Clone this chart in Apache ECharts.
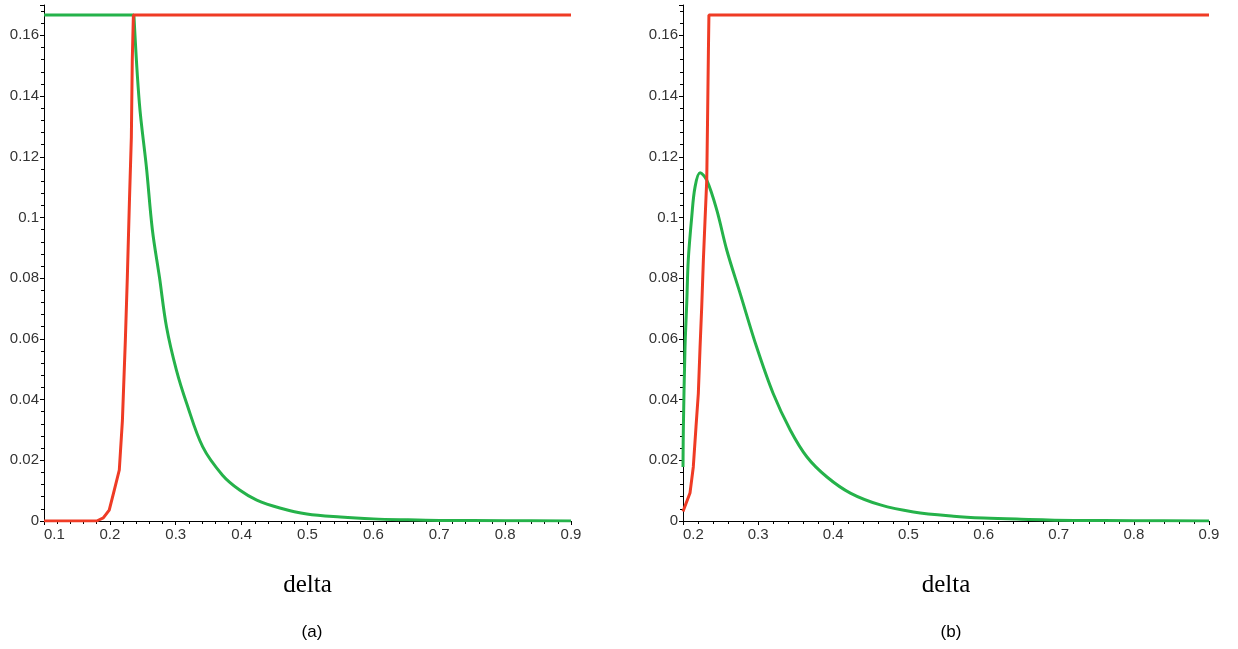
<!DOCTYPE html>
<html>
<head>
<meta charset="utf-8">
<script src="https://cdn.jsdelivr.net/npm/echarts@6/dist/echarts.min.js"></script>
<style>
html, body { margin: 0; padding: 0; background: #fff; }
#main { width: 1238px; height: 649px; }
</style>
</head>
<body>
<div id="main"></div>
<script>
'use strict';

// (a) red curve
var aRedX = [0.1, 0.15, 0.18, 0.19, 0.199, 0.2067, 0.2143, 0.219, 0.2235, 0.2265, 0.2296, 0.2326, 0.234, 0.2357, 0.9];
var aRedY = [0, 0, 0, 0.001, 0.0036, 0.0102, 0.0168, 0.033, 0.0596, 0.0803, 0.1047, 0.1264, 0.1518, 0.1667, 0.1667];
// (a) green curve
var aGreenX = [0.1, 0.2365, 0.2448, 0.2555, 0.2646, 0.2753, 0.286, 0.301, 0.3165, 0.341, 0.371, 0.397, 0.423, 0.458, 0.499, 0.55, 0.6, 0.65, 0.7, 0.8, 0.9];
var aGreenY = [0.1667, 0.1667, 0.1376, 0.1165, 0.0958, 0.0803, 0.0639, 0.0497, 0.0388, 0.0244, 0.0151, 0.0102, 0.0069, 0.0043, 0.0023, 0.0013, 0.0007, 0.0004, 0.0002, 0.0001, 0];

// (b) red curve
var bRedX = [0.2, 0.2093, 0.2137, 0.2173, 0.2204, 0.2227, 0.2249, 0.2271, 0.2293, 0.2316, 0.2327, 0.2338, 0.2345, 0.9];
var bRedY = [0.0031, 0.0092, 0.0178, 0.031, 0.042, 0.0573, 0.0705, 0.0859, 0.099, 0.1123, 0.1327, 0.1545, 0.1667, 0.1667];
// (b) green curve
var bGreenX = [0.2, 0.2005, 0.2027, 0.205, 0.207, 0.2116, 0.216, 0.2227, 0.2316, 0.245, 0.2583, 0.276, 0.298, 0.32, 0.3427, 0.365, 0.3916, 0.4227, 0.4627, 0.5067, 0.56, 0.6, 0.65, 0.72, 0.8, 0.9];
var bGreenY = [0.0178, 0.031, 0.0573, 0.0718, 0.0859, 0.1001, 0.110, 0.1147, 0.1123, 0.1024, 0.0892, 0.075, 0.0573, 0.042, 0.030, 0.0211, 0.0145, 0.0092, 0.0053, 0.003, 0.0016, 0.001, 0.0006, 0.0002, 0.0001, 0];

var xMinA = 0.1, xMinB = 0.2, xMax = 0.9, xStep = 0.1;
var yMin = 0, yMax = 0.17, yStep = 0.02;
var xTitle = 'delta';
var panelNames = ['(a)', '(b)'];

var RED = '#ef3b25';
var GREEN = '#25b24a';

function zip(xs, ys) {
    var out = [];
    for (var i = 0; i < xs.length; i++) {
        out.push([xs[i], ys[i]]);
    }
    return out;
}

function makeX(idx, min) {
    return {
        type: 'value',
        gridIndex: idx,
        min: min,
        max: xMax,
        interval: xStep,
        name: xTitle,
        nameLocation: 'middle',
        nameGap: 52,
        nameTextStyle: { fontFamily: 'Liberation Serif', fontSize: 25, color: '#000' },
        splitLine: { show: false },
        axisLine: { onZero: false, lineStyle: { color: '#000', width: 1 } },
        axisTick: { length: 4, lineStyle: { color: '#000' } },
        minorTick: { show: true, splitNumber: 5, length: 3, lineStyle: { color: '#000' } },
        axisLabel: {
            margin: 6,
            fontFamily: 'Liberation Sans',
            fontSize: 15,
            color: '#333',
            alignMinLabel: 'left'
        }
    };
}

function makeY(idx) {
    return {
        type: 'value',
        gridIndex: idx,
        min: yMin,
        max: yMax,
        interval: yStep,
        splitLine: { show: false },
        axisLine: { onZero: false, lineStyle: { color: '#000', width: 1 } },
        axisTick: { length: 4, lineStyle: { color: '#000' } },
        minorTick: { show: true, splitNumber: 5, length: 3, lineStyle: { color: '#000' } },
        axisLabel: {
            margin: 5,
            fontFamily: 'Liberation Sans',
            fontSize: 15,
            color: '#333',
            formatter: function (v) {
                if (v > 0.165) return '';
                return String(Math.round(v * 100) / 100);
            }
        }
    };
}

function makeLine(idx, data, color, smooth) {
    return {
        type: 'line',
        xAxisIndex: idx,
        yAxisIndex: idx,
        data: data,
        symbol: 'none',
        smooth: smooth,
        lineStyle: { color: color, width: 3 }
    };
}

var aGreen = zip(aGreenX, aGreenY);

var myChart = echarts.init(document.getElementById('main'), null, { renderer: 'canvas' });

var option = {
    backgroundColor: '#fff',
    animation: false,
    title: [
        {
            text: panelNames[0], left: 307, top: 619, textAlign: 'center',
            textStyle: { fontFamily: 'Liberation Sans', fontSize: 17, fontWeight: 'normal', color: '#000' }
        },
        {
            text: panelNames[1], left: 946, top: 619, textAlign: 'center',
            textStyle: { fontFamily: 'Liberation Sans', fontSize: 17, fontWeight: 'normal', color: '#000' }
        }
    ],
    grid: [
        { left: 44, right: 667, top: 5, height: 516 },
        { left: 683, right: 29, top: 5, height: 516 }
    ],
    xAxis: [makeX(0, xMinA), makeX(1, xMinB)],
    yAxis: [makeY(0), makeY(1)],
    series: [
        // flat part, then the smooth decay
        makeLine(0, aGreen.slice(0, 2), GREEN, false),
        makeLine(0, aGreen.slice(1), GREEN, 0.35),
        makeLine(0, zip(aRedX, aRedY), RED, false),
        makeLine(1, zip(bGreenX, bGreenY), GREEN, 0.35),
        makeLine(1, zip(bRedX, bRedY), RED, false)
    ]
};

myChart.setOption(option);
</script>
</body>
</html>
